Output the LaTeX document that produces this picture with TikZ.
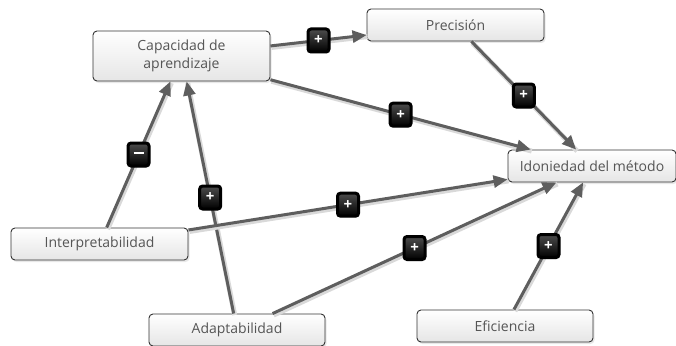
\documentclass[tikz,border=0pt]{standalone}
\usepackage{fontspec}
\setmainfont{Open Sans}
\usetikzlibrary{arrows.meta,shadows}
\definecolor{txt}{HTML}{555555}
\definecolor{edgec}{HTML}{5E5E5E}
\tikzset{
  concept/.style={draw=black!80, line width=0.9pt, rounded corners=4pt,
    top color=white, bottom color=black!10, inner sep=0pt,
    text=txt, font=\fontsize{14}{18}\selectfont, align=center,
    drop shadow={opacity=0.18, shadow xshift=1.5pt, shadow yshift=-2pt}},
  link/.style={draw=edgec, line width=3pt,
    -{Triangle[length=14pt,width=12pt]},
    preaction={draw=black!15, line width=5pt, -, transform canvas={xshift=1pt,yshift=-1.5pt}}},
  sign/.style={rounded corners=3pt, top color=black!70, bottom color=black,
    draw=black, minimum width=21pt, minimum height=23pt, inner sep=0pt,
    text=white, font=\bfseries\fontsize{15}{15}\selectfont,
    drop shadow={opacity=0.25, shadow xshift=1pt, shadow yshift=-1.5pt}}
}
\begin{document}
\begin{tikzpicture}[x=1pt,y=-1pt]
\useasboundingbox[fill=white] (0,0) rectangle (676,345);
\node[concept, minimum width=177pt, minimum height=50pt] (cap) at (181.5,56) {Capacidad de\\aprendizaje};
\node[concept, minimum width=177pt, minimum height=32pt] (prec) at (455.5,25) {Precisión};
\node[concept, minimum width=168pt, minimum height=32pt] (idon) at (592,166) {Idoniedad del método};
\node[concept, minimum width=177pt, minimum height=32pt] (interp) at (99.5,244) {Interpretabilidad};
\node[concept, minimum width=176pt, minimum height=32pt] (adapt) at (237,330) {Adaptabilidad};
\node[concept, minimum width=176pt, minimum height=32pt] (efic) at (505,326) {Eficiencia};

\draw[link] (cap) -- node[sign] {+} (prec);
\draw[link] (cap) -- node[sign] {+} (idon);
\draw[link] (prec) -- node[sign] {+} (idon);
\draw[link] (interp) -- node[sign] {\rule[3.5pt]{10pt}{2.2pt}} (cap);
\draw[link] (adapt) -- node[sign] {+} (cap);
\draw[link] (interp) -- node[sign] {+} (idon);
\draw[link] (adapt) -- node[sign] {+} (idon);
\draw[link] (efic) -- node[sign] {+} (idon);
\end{tikzpicture}
\end{document}
